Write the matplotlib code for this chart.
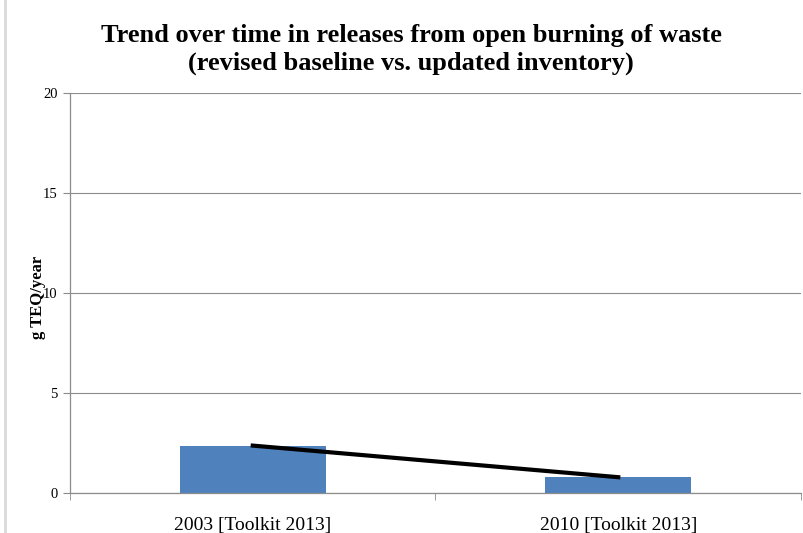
import matplotlib.pyplot as plt
import numpy as np

# Data
categories = ['2003 [Toolkit 2013]', '2010 [Toolkit 2013]']
releases = [2.37, 0.79]
y_ticks = [0, 5, 10, 15, 20]

plt.rcParams['font.family'] = ['Liberation Serif', 'DejaVu Serif']

fig = plt.figure(figsize=(8.04, 5.33), dpi=100)
ax = fig.add_axes([70/804, 1 - 493/533, 731/804, 400/533])

x = np.arange(len(categories))
ax.bar(x, releases, width=0.4, color='#4f81bd', zorder=2)
ax.plot(x, releases, color='black', linewidth=3, zorder=3)

ax.set_xlim(-0.5, 1.5)
ax.set_ylim(0, 20)
ax.set_yticks(y_ticks)
ax.set_yticklabels([str(t) for t in y_ticks], fontsize=10.5)
ax.set_xticks(x)
ax.set_xticklabels(categories, fontsize=14)
ax.set_xticks([-0.5, 0.5, 1.5], minor=True)
ax.tick_params(axis='x', which='major', length=0, pad=17)
ax.tick_params(axis='x', which='minor', length=5, color='#8c8c8c')
ax.tick_params(axis='y', length=5, color='#8c8c8c', pad=4)

ax.grid(axis='y', color='#8c8c8c', linewidth=0.8, zorder=0)
for s in ['top', 'right']:
    ax.spines[s].set_visible(False)
for s in ['left', 'bottom']:
    ax.spines[s].set_color('#8c8c8c')
    ax.spines[s].set_linewidth(0.9)

ax.set_ylabel('g TEQ/year', fontsize=12, fontweight='bold')
ax.yaxis.set_label_coords(-0.033, 0.49)

fig.text(411/804, 1 - 49.5/533, 'Trend over time in releases from open burning of waste\n(revised baseline vs. updated inventory)',
         ha='center', va='center', fontsize=19, fontweight='bold', linespacing=1.28)

# light frame line on the left
fig.add_artist(plt.Line2D([5.5/804, 5.5/804], [0, 1], color='#d9d9d9', linewidth=2))

fig.savefig('out.png', dpi=100)
